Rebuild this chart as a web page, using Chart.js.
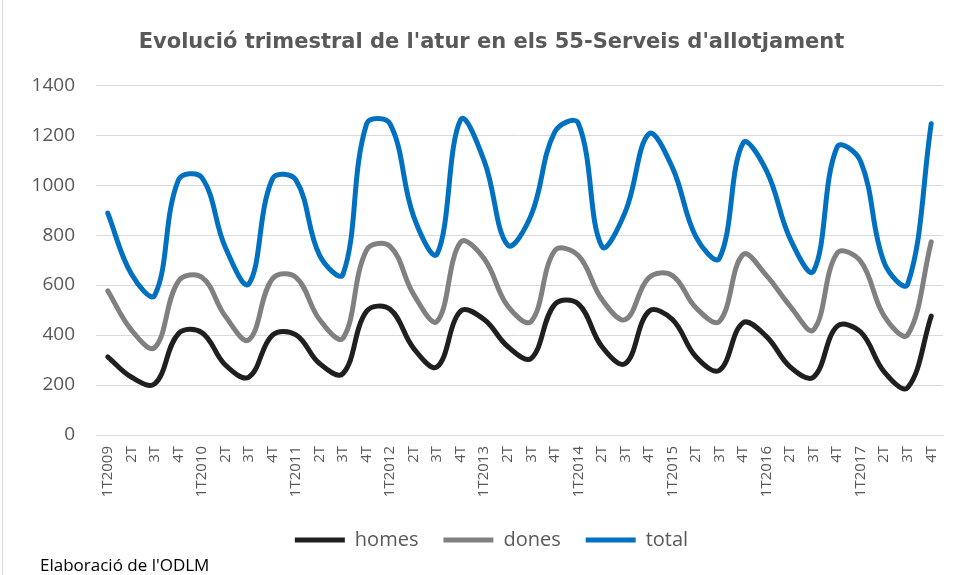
<!DOCTYPE html>
<html>
<head>
<meta charset="utf-8">
<script src="https://cdn.jsdelivr.net/npm/chart.js@4.4.1/dist/chart.umd.min.js"></script>
<style>
	html, body { margin: 0; padding: 0; background: #fff; }
	.chart-box { position: relative; width: 962px; height: 575px; overflow: hidden; }
	.chart-box .edge { position: absolute; left: 2px; top: 0; width: 1px; height: 575px; background: #d9d9d9; }
	.chart-box .source { position: absolute; left: 40px; top: 553px; font: 17px "Open Sans", sans-serif; color: #000; line-height: 24px; }
</style>
</head>
<body>
<div class="chart-box">
	<canvas id="atur_chart" width="962" height="575"></canvas>
	<div class="edge"></div>
	<div class="source">Elaboració de l'ODLM</div>
</div>
<script>
const quarters = [
	'1T2009', '2T', '3T', '4T',
	'1T2010', '2T', '3T', '4T',
	'1T2011', '2T', '3T', '4T',
	'1T2012', '2T', '3T', '4T',
	'1T2013', '2T', '3T', '4T',
	'1T2014', '2T', '3T', '4T',
	'1T2015', '2T', '3T', '4T',
	'1T2016', '2T', '3T', '4T',
	'1T2017', '2T', '3T', '4T'
];
const homes = [
	313, 232, 205, 405, 410, 280, 232, 400,
	401, 286, 246, 495, 503, 347, 273, 496,
	462, 354, 307, 523, 525, 354, 286, 495,
	462, 313, 259, 449, 394, 273, 232, 435,
	412, 253, 190, 476
];
const dones = [
	577, 421, 350, 615, 631, 475, 381, 625,
	631, 462, 388, 740, 755, 563, 455, 772,
	705, 516, 455, 738, 718, 543, 462, 630,
	638, 509, 455, 722, 638, 516, 421, 728,
	695, 476, 401, 773
];
const total = [
	888, 645, 560, 1020, 1030, 750, 605, 1025,
	1020, 720, 644, 1245, 1245, 875, 725, 1262,
	1097, 760, 881, 1213, 1248, 755, 894, 1205,
	1070, 793, 708, 1168, 1057, 786, 656, 1153,
	1095, 690, 604, 1246
];
const y_max = 1400;
const y_step = 200;

const txt = '#595959';
const grid = '#d9d9d9';

function line_set(label, data, color) {
	return {
		label: label,
		data: data,
		borderColor: color,
		backgroundColor: color,
		borderWidth: 5,
		borderCapStyle: 'round',
		borderJoinStyle: 'round',
		pointRadius: 0,
		pointHoverRadius: 0,
		tension: 0.38,
		fill: false
	};
}

// title and legend are centred on the frame from x=40, not on the whole canvas
const shift_boxes = {
	id: 'shift_boxes',
	afterLayout(chart) {
		chart.titleBlock.left = 40;
		chart.legend.left = 40;
	}
};

const config = {
	type: 'line',
	data: {
		labels: quarters,
		datasets: [
			line_set('homes', homes, '#1f1f1f'),
			line_set('dones', dones, '#808080'),
			line_set('total', total, '#0070c0')
		]
	},
	options: {
		responsive: false,
		animation: false,
		devicePixelRatio: 1,
		layout: {
			padding: { left: 0, right: 19, top: 0, bottom: 15 }
		},
		plugins: {
			title: {
				display: true,
				text: "Evolució trimestral de l'atur en els 55-Serveis d'allotjament",
				color: txt,
				font: { family: 'DejaVu Sans', size: 21, weight: 'bold' },
				padding: { top: 30, bottom: 30 }
			},
			legend: {
				position: 'bottom',
				labels: {
					usePointStyle: true,
					pointStyle: 'line',
					pointStyleWidth: 50,
					color: txt,
					font: { family: 'Open Sans', size: 20 },
					padding: 25
				}
			},
			tooltip: { enabled: false }
		},
		scales: {
			x: {
				offset: true,
				grid: { display: false },
				border: { display: true, color: grid },
				ticks: {
					autoSkip: false,
					maxRotation: 90,
					minRotation: 90,
					color: txt,
					font: { family: 'Open Sans', size: 15 }
				},
				afterFit: (scale) => { scale.height = 70; }
			},
			y: {
				min: 0,
				max: y_max,
				border: { display: false },
				grid: { color: grid, lineWidth: 1, drawTicks: false },
				ticks: {
					stepSize: y_step,
					padding: 21,
					color: txt,
					font: { family: 'Open Sans', size: 19 },
					callback: (v) => String(v)
				},
				afterFit: (scale) => { scale.width = 96; }
			}
		}
	},
	plugins: [shift_boxes]
};

new Chart(document.getElementById('atur_chart'), config);
</script>
</body>
</html>
